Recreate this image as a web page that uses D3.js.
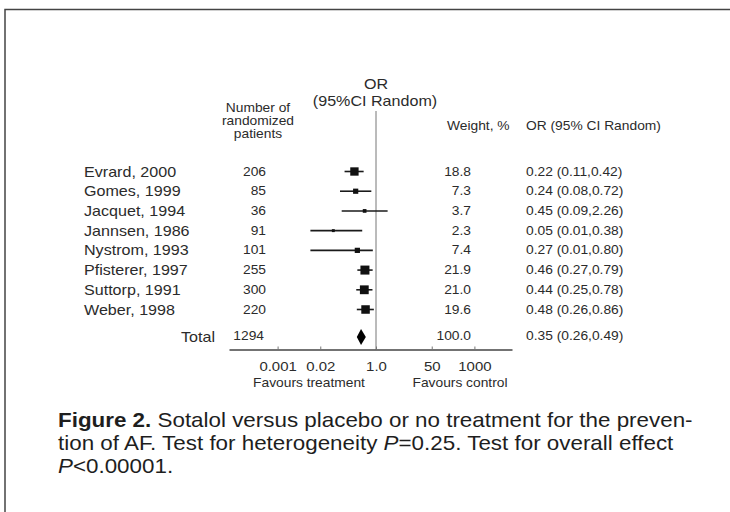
<!DOCTYPE html>
<html>
<head>
<meta charset="utf-8">
<script src="https://cdn.jsdelivr.net/npm/d3@7"></script>
<style>
  html, body { margin: 0; padding: 0; background: #fff; }
  svg { display: block; }
  text { font-family: "Liberation Sans", Arial, Helvetica, sans-serif; }
</style>
</head>
<body>
<svg id="chart" width="730" height="512"></svg>
<script>
// ---------- data ----------
const studies   = ["Evrard, 2000", "Gomes, 1999", "Jacquet, 1994", "Jannsen, 1986",
                   "Nystrom, 1993", "Pfisterer, 1997", "Suttorp, 1991", "Weber, 1998"];
const patients  = [206, 85, 36, 91, 101, 255, 300, 220];
const weights   = [18.8, 7.3, 3.7, 2.3, 7.4, 21.9, 21.0, 19.6];
const orValues  = [0.22, 0.24, 0.45, 0.05, 0.27, 0.46, 0.44, 0.48];
const ciLow     = [0.11, 0.08, 0.09, 0.01, 0.01, 0.27, 0.25, 0.26];
const ciHigh    = [0.42, 0.72, 2.26, 0.38, 0.80, 0.79, 0.78, 0.86];
const totalLabel    = "Total";
const totalPatients = 1294;
const totalWeight   = 100.0;
const totalOR       = [0.35, 0.26, 0.49];   // estimate, low, high
const tickValues = [0.001, 0.02, 1, 50, 1000];
const tickLabels = ["0.001", "0.02", "1.0", "50", "1000"];
const captionLines = [
  [{t: "Figure 2.", w: "bold"}, {t: " Sotalol versus placebo or no treatment for the preven-"}],
  [{t: "tion of AF. Test for heterogeneity "}, {t: "P", s: "italic"}, {t: "=0.25. Test for overall effect"}],
  [{t: "P", s: "italic"}, {t: "<0.00001."}]
];

// ---------- setup ----------
const svg = d3.select("#chart");
const SX = 1.15;           // horizontal stretch of the scanned figure's lettering
const ink = "#2b2b2b";

function txt(x, y, str, size, anchor, opts = {}) {
  return svg.append("text")
    .attr("transform", `translate(${x},${y}) scale(${opts.sx || SX},1)`)
    .attr("text-anchor", anchor || "start")
    .attr("font-size", size)
    .attr("fill", opts.fill || ink)
    .attr("font-weight", opts.weight || "normal")
    .text(str);
}

// frame (top & left rules)
svg.append("path").attr("d", "M5,512V9.5H730")
  .attr("fill", "none").attr("stroke", "#444").attr("stroke-width", 1.5);

// scales
const x = d3.scaleLog().domain([10 ** (-147 / 32.8), 10 ** (136 / 32.8)]).range([229, 512]);
const y = d3.scalePoint().domain(studies).range([171.5, 309.5]);
const totalY = 337;
const boxSize = d3.scaleSqrt().domain([0, 21.9]).range([0, 9]);
const axisY = 349.5;

// headers
txt(x(1), 89, "OR", 14, "middle");
txt(x(1) - 1, 105.5, "(95%CI Random)", 14, "middle");
txt(258, 111.5, "Number of", 12, "middle");
txt(258, 124.5, "randomized", 12, "middle");
txt(258, 137.5, "patients", 12, "middle");
txt(447, 130, "Weight, %", 12, "start");
txt(526, 130, "OR (95% CI Random)", 12, "start");

// null line
svg.append("line")
  .attr("x1", x(1)).attr("x2", x(1))
  .attr("y1", 111).attr("y2", axisY)
  .attr("stroke", "#777").attr("stroke-width", 1);

// study rows
const f2 = d3.format(".2f"), f1 = d3.format(".1f");
studies.forEach((s, i) => {
  const yy = y(s);
  txt(84, yy + 5, s, 14, "start");
  txt(266, yy + 4, patients[i], 12, "end");
  txt(471, yy + 4, f1(weights[i]), 12, "end");
  txt(526, yy + 4, `${f2(orValues[i])} (${f2(ciLow[i])},${f2(ciHigh[i])})`, 12, "start");

  svg.append("line")
    .attr("x1", x(ciLow[i])).attr("x2", x(ciHigh[i]))
    .attr("y1", yy).attr("y2", yy)
    .attr("stroke", "#1a1a1a").attr("stroke-width", 1.6);
  const b = boxSize(weights[i]);
  svg.append("rect")
    .attr("x", x(orValues[i]) - b / 2).attr("y", yy - b / 2)
    .attr("width", b).attr("height", b)
    .attr("fill", "#111");
});

// total row
txt(215, totalY + 5, totalLabel, 14, "end");
txt(264, totalY + 3, totalPatients, 12, "end");
txt(471, totalY + 3, f1(totalWeight), 12, "end");
txt(526, totalY + 3, `${f2(totalOR[0])} (${f2(totalOR[1])},${f2(totalOR[2])})`, 12, "start");
const dh = 8;
svg.append("path")
  .attr("d", `M${x(totalOR[1])},${totalY}L${x(totalOR[0])},${totalY - dh}L${x(totalOR[2])},${totalY}L${x(totalOR[0])},${totalY + dh}Z`)
  .attr("fill", "#000");

// axis
const axis = d3.axisBottom(x)
  .tickValues(tickValues)
  .tickFormat((d, i) => tickLabels[i])
  .tickSize(-3).tickSizeOuter(0).tickPadding(12.5);
const gAxis = svg.append("g").attr("transform", `translate(0,${axisY})`).call(axis);
gAxis.select(".domain").attr("stroke", "#444").attr("stroke-width", 1.5);
gAxis.selectAll(".tick line").attr("stroke", "#777");
gAxis.selectAll(".tick text")
  .attr("font-family", "'Liberation Sans', Arial, sans-serif")
  .attr("font-size", 13).attr("fill", ink)
  .attr("transform", `scale(${SX},1)`);

txt(309, 387, "Favours treatment", 12, "middle");
txt(460, 387, "Favours control", 12, "middle");

// caption
const capY = [427, 450, 473];
captionLines.forEach((line, i) => {
  const t = svg.append("text")
    .attr("transform", `translate(58,${capY[i]}) scale(1.12,1)`)
    .attr("font-size", 20).attr("fill", "#1e1e1e");
  line.forEach(p => {
    t.append("tspan")
      .attr("font-weight", p.w || "normal")
      .attr("font-style", p.s || "normal")
      .text(p.t);
  });
});
</script>
</body>
</html>
